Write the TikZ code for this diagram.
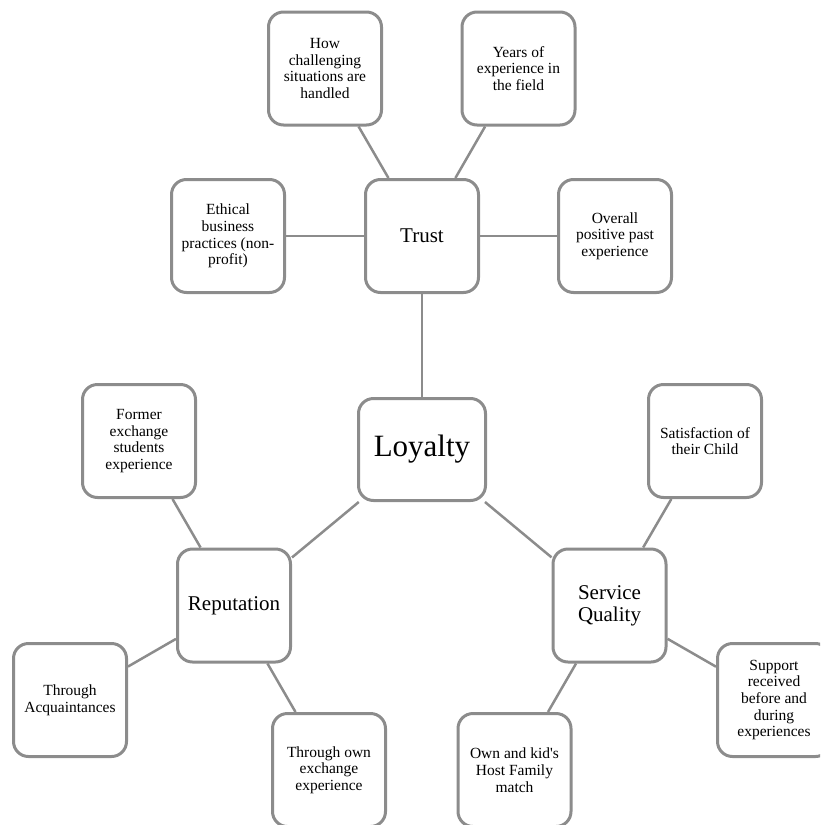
\documentclass[tikz,border=0pt]{standalone}
\usepackage{fontspec}
\setmainfont{Liberation Serif}
\definecolor{boxgray}{RGB}{140,140,140}
\begin{document}
\begin{tikzpicture}[x=1pt,y=-1pt,
  box/.style={draw=boxgray, line width=3pt, rounded corners=15pt, fill=white,
    minimum width=113pt, minimum height=113pt, align=center, inner sep=2pt,
    font=\fontsize{15.5}{16.7}\selectfont},
  mid/.style={box, font=\fontsize{21}{22}\selectfont},
  core/.style={box, minimum width=127pt, minimum height=102pt, font=\fontsize{31}{33}\selectfont},
  link/.style={draw=boxgray, line width=2.5pt}]
\useasboundingbox (0,0) rectangle (820,825);
\clip (0,0) rectangle (820,825);

\node[box] (how) at (325,68.5) {How\\challenging\\situations are\\handled};
\node[box] (years) at (518.5,68.5) {Years of\\experience in\\the field};
\node[box] (ethical) at (228,236) {Ethical\\business\\practices (non-\\profit)};
\node[mid] (trust) at (422,236) {Trust};
\node[box] (overall) at (615,236) {Overall\\positive past\\experience};
\node[core] (loyalty) at (422,449.5) {Loyalty};
\node[box] (former) at (139,441) {Former\\exchange\\students\\experience};
\node[box] (satis) at (705,441) {Satisfaction of\\their Child};
\node[mid] (rep) at (234,605.5) {Reputation};
\node[mid] (sq) at (609.5,605.5) {Service\\Quality};
\node[box] (acq) at (70,700) {Through\\Acquaintances};
\node[box] (support) at (774,700) {Support\\received\\before and\\during\\experiences};
\node[box] (ownexch) at (329,770) {Through own\\exchange\\experience};
\node[box] (host) at (514.5,770) {Own and kid\textquotesingle s\\Host Family\\match};

\draw[link] (how) -- (trust);
\draw[link] (years) -- (trust);
\draw[link] (ethical) -- (trust);
\draw[link] (trust) -- (overall);
\draw[link] (trust) -- (loyalty);
\draw[link] (loyalty) -- (rep);
\draw[link] (loyalty) -- (sq);
\draw[link] (former) -- (rep);
\draw[link] (acq) -- (rep);
\draw[link] (ownexch) -- (rep);
\draw[link] (satis) -- (sq);
\draw[link] (support) -- (sq);
\draw[link] (host) -- (sq);
\end{tikzpicture}
\end{document}
